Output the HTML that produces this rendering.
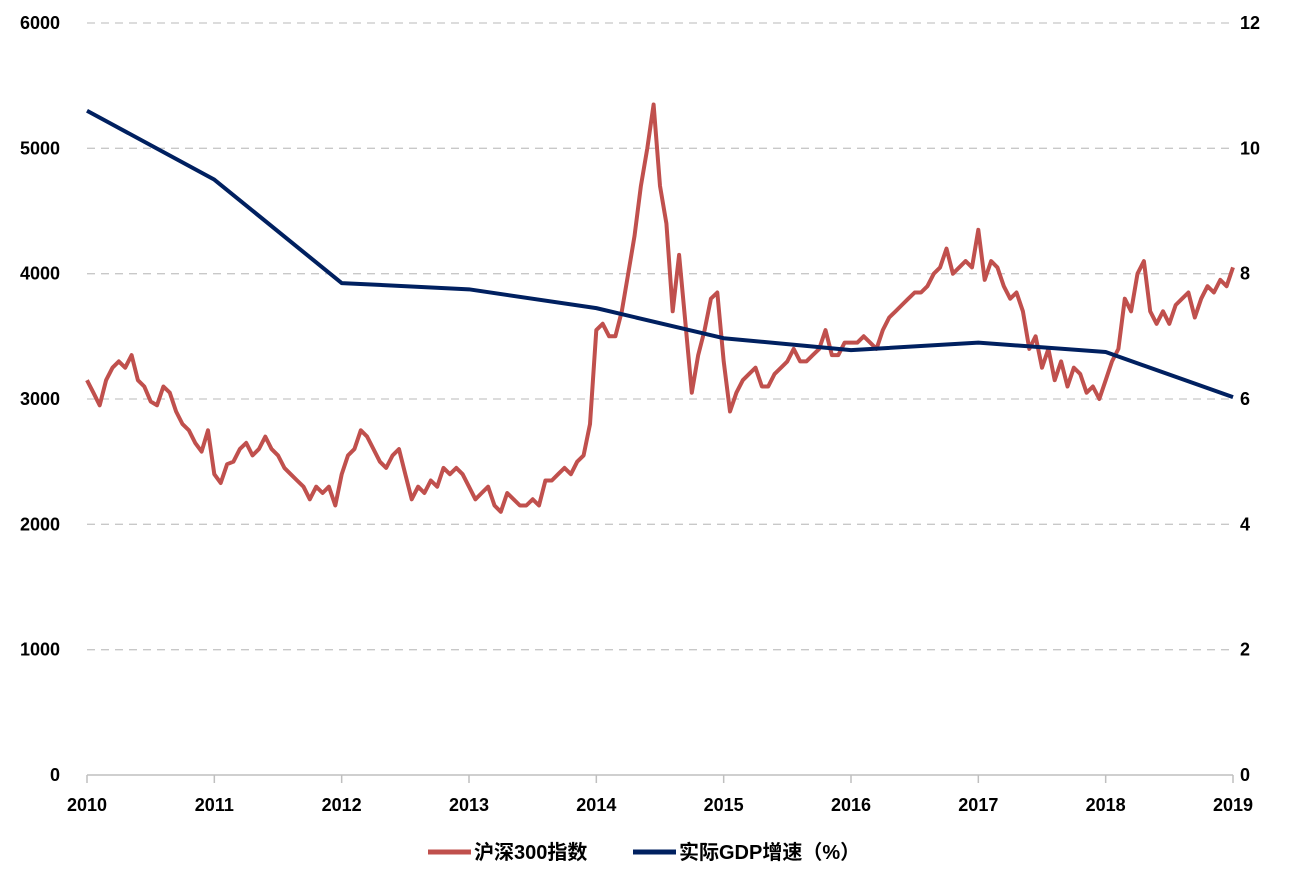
<!DOCTYPE html>
<html><head><meta charset="utf-8"><style>
body{margin:0;background:#fff;width:1297px;height:884px;overflow:hidden}
svg text{font-family:"Liberation Sans","Noto Sans CJK SC",sans-serif;font-weight:bold;font-size:18px;fill:#000}
svg text.lg{font-size:20px}
</style></head><body>
<svg id="c" width="1297" height="884"></svg>
<script>
const years=[2010,2011,2012,2013,2014,2015,2016,2017,2018,2019];
const leftTicks=[0,1000,2000,3000,4000,5000,6000];
const rightTicks=[0,2,4,6,8,10,12];
const gdpValues=[10.6,9.5,7.85,7.75,7.45,6.97,6.78,6.9,6.75,6.03];
const csi2010=[3150,3050,2950,3150,3250,3300,3250,3350,3150,3100,2980,2950,3100,3050,2900,2800,2750,2650,2580,2750];
const csi2011=[2400,2330,2480,2500,2600,2650,2550,2600,2700,2600,2550,2450,2400,2350,2300,2200,2300,2250,2300,2150];
const csi2012=[2400,2550,2600,2750,2700,2600,2500,2450,2550,2600,2400,2200,2300,2250,2350,2300,2450,2400,2450,2400];
const csi2013=[2300,2200,2250,2300,2150,2100,2250,2200,2150,2150,2200,2150,2350,2350,2400,2450,2400,2500,2550,2800];
const csi2014=[3550,3600,3500,3500,3700,4000,4300,4700,5000,5350,4700,4400,3700,4150,3600,3050,3350,3550,3800,3850];
const csi2015=[3300,2900,3050,3150,3200,3250,3100,3100,3200,3250,3300,3400,3300,3300,3350,3400,3550,3350,3350,3450];
const csi2016=[3450,3450,3500,3450,3400,3550,3650,3700,3750,3800,3850,3850,3900,4000,4050,4200,4000,4050,4100,4050];
const csi2017=[4350,3950,4100,4050,3900,3800,3850,3700,3400,3500,3250,3400,3150,3300,3100,3250,3200,3050,3100,3000];
const csi2018=[3150,3300,3400,3800,3700,4000,4100,3700,3600,3700,3600,3750,3800,3850,3650,3800,3900,3850,3950,3900,4050];
const csiValues=[].concat(csi2010,csi2011,csi2012,csi2013,csi2014,csi2015,csi2016,csi2017,csi2018);

const X0=87,X1=1233,Y0=775,Y1=23;
const x=t=>X0+(t-2010)/9*(X1-X0);
const yL=v=>Y0-v/6000*(Y0-Y1);
const yR=v=>Y0-v/12*(Y0-Y1);
const svg=document.getElementById('c');
const NS='http://www.w3.org/2000/svg';
function mk(tag,attrs,txt){const e=document.createElementNS(NS,tag);for(const k in attrs)e.setAttribute(k,attrs[k]);if(txt!=null)e.textContent=txt;svg.appendChild(e);return e;}

leftTicks.forEach((v,i)=>{
  if(v>0){const g=mk('line',{x1:X0,x2:X1,y1:yL(v),y2:yL(v),stroke:'#c8c8c8','stroke-width':1.3,'stroke-dasharray':'8,6'});
  
  }
  const t=mk('text',{x:60,y:yL(v)+6,'text-anchor':'end'},v);
  
  
});
rightTicks.forEach(v=>{
  const t=mk('text',{x:1240,y:yR(v)+6},v);
  
  
});
const ax=mk('line',{x1:X0,x2:X1,y1:Y0,y2:Y0,stroke:'#bfbfbf','stroke-width':1.5});


years.forEach(yr=>{
  const tk=mk('line',{x1:x(yr),x2:x(yr),y1:Y0,y2:Y0+8,stroke:'#bfbfbf','stroke-width':1.5});
  
  
  const t=mk('text',{x:x(yr),y:811,'text-anchor':'middle'},yr);
  
  
});
const n=csiValues.length;
const csiPts=csiValues.map((v,i)=>x(2010+i*9/(n-1)).toFixed(1)+','+yL(v).toFixed(1)).join(' ');
const l1=mk('polyline',{points:csiPts,fill:'none',stroke:'#c0504d','stroke-width':4,'stroke-linejoin':'round'});


const gdpPts=gdpValues.map((v,i)=>x(years[i])+','+yR(v)).join(' ');
const l2=mk('polyline',{points:gdpPts,fill:'none',stroke:'#002060','stroke-width':4,'stroke-linejoin':'round'});



const a=mk('line',{x1:428,x2:471,y1:852,y2:852,stroke:'#c0504d','stroke-width':5});


const at=mk('text',{x:474,y:859,class:'lg'},'沪深300指数');


const b=mk('line',{x1:633,x2:676,y1:852,y2:852,stroke:'#002060','stroke-width':5});


const bt=mk('text',{x:679,y:859,class:'lg'},'实际GDP增速（%）');


</script>
</body></html>
